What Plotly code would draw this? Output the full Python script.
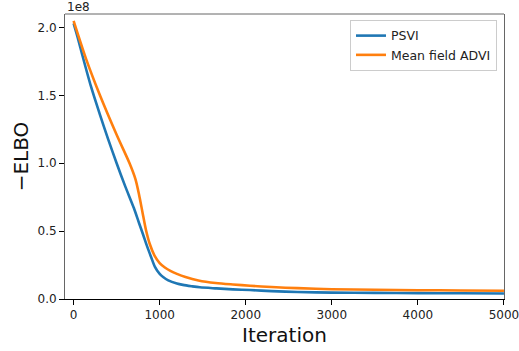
import plotly.graph_objects as go

# Iterations and -ELBO values
psvi_iter = [0, 50, 100, 200, 300, 400, 500, 600, 700, 760, 810, 850, 900, 945, 1000,
             1040, 1100, 1200, 1270, 1370, 1467, 1660, 1850, 2050, 2300, 2600, 3000, 3500,
             4000, 4500, 5000]
psvi_elbo = [2.03e8, 1.92e8, 1.80e8, 1.57e8, 1.37e8, 1.18e8, 1.00e8, 0.83e8, 0.67e8, 0.56e8,
             0.47e8, 0.395e8, 0.31e8, 0.237e8, 0.185e8, 0.162e8, 0.137e8, 0.114e8,
             0.104e8, 0.094e8, 0.086e8, 0.078e8, 0.071e8, 0.066e8, 0.058e8, 0.052e8, 0.047e8,
             0.045e8, 0.043e8, 0.042e8, 0.041e8]

advi_iter = [0, 150, 300, 500, 650, 720, 760, 800, 840, 885, 940, 1000, 1060, 1130, 1200,
             1300, 1450, 1650, 1850, 2050, 2300, 2600, 3000, 3500, 4000, 4500, 5000]
advi_elbo = [2.05e8, 1.76e8, 1.51e8, 1.21e8, 1.00e8, 0.88e8, 0.77e8, 0.64e8, 0.51e8, 0.405e8,
             0.32e8, 0.265e8, 0.232e8, 0.205e8, 0.185e8, 0.162e8, 0.137e8, 0.118e8, 0.107e8,
             0.098e8, 0.088e8, 0.080e8, 0.072e8, 0.068e8, 0.065e8, 0.063e8, 0.061e8]

series_names = ["PSVI", "Mean field ADVI"]
series_colors = ["#1f77b4", "#ff7f0e"]

y_tickvals = [0, 0.5e8, 1.0e8, 1.5e8, 2.0e8]
y_ticktext = ["0.0", "0.5", "1.0", "1.5", "2.0"]
x_tickvals = [0, 1000, 2000, 3000, 4000, 5000]

FONT = "DejaVu Sans"

fig = go.Figure()
fig.add_trace(go.Scatter(x=psvi_iter, y=psvi_elbo, mode="lines", name=series_names[0],
                         line=dict(color=series_colors[0], width=2.6, shape="spline",
                                   smoothing=0.8)))
fig.add_trace(go.Scatter(x=advi_iter, y=advi_elbo, mode="lines", name=series_names[1],
                         line=dict(color=series_colors[1], width=2.6, shape="spline",
                                   smoothing=0.8)))

fig.update_layout(
    width=519, height=351,
    margin=dict(l=65, r=15, t=14, b=52, autoexpand=False),
    paper_bgcolor="white", plot_bgcolor="white",
    font=dict(family=FONT, color="#222", size=12),
    showlegend=True,
    legend=dict(x=0.984, y=0.979, xanchor="right", yanchor="top",
                bgcolor="rgba(255,255,255,0.8)", bordercolor="#cccccc", borderwidth=1,
                font=dict(family=FONT, size=12.5, color="#222"),
                tracegroupgap=0, itemwidth=30),
    xaxis=dict(range=[-100, 5000.5], tickvals=x_tickvals, showgrid=False, zeroline=False,
               showline=True, linecolor="black", linewidth=1, mirror=False,
               ticks="outside", ticklen=5, tickcolor="black", ticklabeloverflow="allow",
               automargin=False,
               tickfont=dict(family=FONT, size=12, color="#222"),
               title=dict(text="Iteration", font=dict(family=FONT, size=20, color="#111"),
                          standoff=6)),
    yaxis=dict(range=[0, 2.1e8], tickvals=y_tickvals, ticktext=y_ticktext, showgrid=False,
               zeroline=False, showline=True, linecolor="#666", linewidth=1, mirror=True,
               ticks="outside", ticklen=5, tickcolor="black", automargin=False,
               tickfont=dict(family=FONT, size=12, color="#222"),
               title=dict(text="\u2212ELBO", font=dict(family=FONT, size=20, color="#111"),
                          standoff=3)),
    shapes=[dict(type="line", xref="paper", yref="paper", x0=0, x1=1, y0=1, y1=1,
                 line=dict(color="#666", width=1))],
    annotations=[dict(text="1e8", xref="paper", yref="paper", x=0, y=1, xanchor="left",
                      yanchor="bottom", showarrow=False, yshift=-2,
                      font=dict(family=FONT, size=12, color="#222"))],
)

fig.write_html("out.html")
